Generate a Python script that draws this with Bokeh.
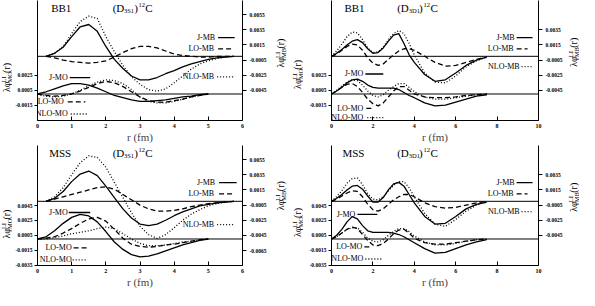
import math
from bokeh.plotting import figure
from bokeh.models import (Range1d, LinearAxis, FixedTicker, PrintfTickFormatter,
                          Span, Label, Arrow)
from bokeh.layouts import column, row
from bokeh.embed import file_html
from bokeh.resources import INLINE

# ---------------- data ----------------
R_S_MB = [0.25, 0.5, 0.75, 1.0, 1.25, 1.5, 1.75, 2.0, 2.25, 2.5, 2.75, 3.0,
          3.25, 3.5, 3.75, 4.0, 4.25, 4.5, 4.75, 5.0, 5.25, 5.5, 5.75]
R_S_MO = [0.0, 0.25, 0.5, 0.75, 1.0, 1.25, 1.5, 1.75, 2.0, 2.25, 2.5, 2.75,
          3.0, 3.25, 3.5, 3.75, 4.0, 4.25, 4.5, 4.75, 5.0]
R_D = [0.0, 0.25, 0.5, 0.75, 1.0, 1.25, 1.5, 1.75, 2.0, 2.25, 2.5, 2.75, 3.0,
       3.25, 3.5, 3.75, 4.0, 4.5, 5.0, 5.5, 6.0, 6.5, 7.0, 7.5]

X_TICKS_S = [0, 1, 2, 3, 4, 5, 6]
X_TICKS_D = [0, 2, 4, 6, 8, 10]
L_TICKS_BB1 = [0.0025, 0.0005, -0.0015]
L_TICKS_MSS = [0.0045, 0.0025, 0.0005, -0.0015, -0.0035]
R_TICKS_P1 = [0.0055, 0.0035, 0.0015, -0.0005, -0.0025, -0.0045]
R_TICKS_P2 = [0.0035, 0.0015, -0.0005, -0.0025, -0.0045]
R_TICKS_P3 = [0.0055, 0.0035, 0.0015, -0.0005, -0.0025, -0.0045, -0.0065]
R_TICKS_P4 = [0.0035, 0.0015, -0.0005, -0.0025, -0.0045]

# BB1, D(3S1)
BB1_S_J_MB = [0, 0.0004, 0.0012, 0.0026, 0.0039, 0.0042, 0.0033, 0.0013, -0.0004, -0.0016, -0.0026, -0.0031,
              -0.0031, -0.0028, -0.0023, -0.0019, -0.0014, -0.0010, -0.0007, -0.0004, -0.0002, -0.0001, 0.0]
BB1_S_LO_MB = [0, -0.0002, -0.0005, -0.0007, -0.0008, -0.0009, -0.0008, -0.0006, -0.0001, 0.0005, 0.0010, 0.0013,
               0.0013, 0.0011, 0.0007, 0.0003, 0.0001, 0.0, -0.0001, -0.0001, 0.0, 0.0, 0.0]
BB1_S_NLO_MB = [0, 0.0004, 0.0013, 0.0030, 0.0046, 0.0053, 0.0050, 0.0026, 0.0006, -0.0012, -0.0027, -0.0037,
                -0.0044, -0.0046, -0.0043, -0.0035, -0.0026, -0.0017, -0.0010, -0.0006, -0.0003, -0.0001, 0.0]
BB1_S_J_MO = [0, 0.0003, 0.0007, 0.0011, 0.0014, 0.0014, 0.0012, 0.0008, 0.0003, -0.0002, -0.0005,
              -0.0008, -0.0010, -0.0010, -0.0009, -0.0008, -0.0006, -0.0004, -0.0003, -0.0001, 0.0]
BB1_S_LO_MO = [0, -0.0002, -0.0003, -0.0002, 0.0, 0.0004, 0.0009, 0.0014, 0.0017, 0.0015, 0.0010,
               0.0003, -0.0004, -0.0009, -0.0011, -0.0011, -0.0009, -0.0007, -0.0004, -0.0002, 0.0]
BB1_S_NLO_MO = [0, -0.0003, -0.0004, -0.0003, 0.0, 0.0005, 0.0011, 0.0016, 0.0019, 0.0018, 0.0014,
                0.0006, -0.0004, -0.0010, -0.0012, -0.0012, -0.0010, -0.0007, -0.0004, -0.0002, 0.0]

# BB1, D(3D1)
BB1_D_J_MB = [0, 0.0004, 0.0009, 0.0015, 0.0020, 0.0022, 0.0018, 0.0010, 0.0004, 0.0005, 0.0011, 0.0020,
              0.0028, 0.0030, 0.0017, 0.0002, -0.0008, -0.0024, -0.0033, -0.0031, -0.0022, -0.0012, -0.0005, -0.0001]
BB1_D_LO_MB = [0, 0.0003, 0.0008, 0.0013, 0.0016, 0.0015, 0.0008, -0.0002, -0.0009, -0.0012, -0.0010, -0.0004,
               0.0002, 0.0007, 0.0010, 0.0010, 0.0008, 0.0000, -0.0008, -0.0013, -0.0012, -0.0008, -0.0004, -0.0001]
BB1_D_NLO_MB = [0, 0.0007, 0.0016, 0.0026, 0.0032, 0.0031, 0.0022, 0.0011, 0.0005, 0.0006, 0.0012, 0.0022,
                0.0030, 0.0034, 0.0030, 0.0017, 0.0002, -0.0022, -0.0034, -0.0035, -0.0026, -0.0014, -0.0006, -0.0001]
BB1_D_J_MO = [0, 0.0004, 0.0009, 0.0015, 0.0019, 0.0020, 0.0017, 0.0012, 0.0009, 0.0008, 0.0008, 0.0008,
              0.0008, 0.0006, 0.0002, -0.0002, -0.0005, -0.0012, -0.0016, -0.0015, -0.0011, -0.0007, -0.0003, -0.0001]
BB1_D_LO_MO = [0, 0.0004, 0.0009, 0.0013, 0.0014, 0.0010, 0.0002, -0.0007, -0.0013, -0.0016, -0.0012, -0.0004,
               0.0004, 0.0010, 0.0010, 0.0005, 0.0000, -0.0004, -0.0005, -0.0005, -0.0004, -0.0002, -0.0001, 0.0]
BB1_D_NLO_MO = [0, 0.0005, 0.0011, 0.0016, 0.0019, 0.0018, 0.0012, 0.0004, -0.0002, -0.0004, -0.0001, 0.0005,
                0.0010, 0.0014, 0.0014, 0.0009, 0.0003, -0.0004, -0.0007, -0.0007, -0.0005, -0.0003, -0.0001, 0.0]

# MSS, D(3S1)
MSS_S_J_MB = [0, 0.0004, 0.0013, 0.0026, 0.0036, 0.0040, 0.0034, 0.0020, 0.0005, -0.0010, -0.0022, -0.0030,
              -0.0032, -0.0030, -0.0025, -0.0019, -0.0014, -0.0010, -0.0006, -0.0004, -0.0002, -0.0001, 0.0]
MSS_S_LO_MB = [0, 0.0003, 0.0006, 0.0009, 0.0012, 0.0015, 0.0018, 0.0019, 0.0016, 0.0009, 0.0002, -0.0005,
               -0.0010, -0.0013, -0.0013, -0.0012, -0.0010, -0.0007, -0.0005, -0.0003, -0.0002, -0.0001, 0.0]
MSS_S_NLO_MB = [0, 0.0006, 0.0018, 0.0035, 0.0051, 0.0060, 0.0058, 0.0045, 0.0025, 0.0005, -0.0015, -0.0033,
                -0.0044, -0.0049, -0.0044, -0.0035, -0.0025, -0.0017, -0.0011, -0.0006, -0.0003, -0.0001, 0.0]
MSS_S_J_MO = [0, 0.0003, 0.0011, 0.0021, 0.0029, 0.0033, 0.0031, 0.0023, 0.0010, -0.0004, -0.0014,
              -0.0021, -0.0024, -0.0023, -0.0020, -0.0016, -0.0012, -0.0008, -0.0005, -0.0002, 0.0]
MSS_S_LO_MO = [0, 0.0001, 0.0003, 0.0008, 0.0014, 0.0021, 0.0027, 0.0029, 0.0024, 0.0013, 0.0001,
               -0.0007, -0.0010, -0.0011, -0.0010, -0.0008, -0.0007, -0.0005, -0.0003, -0.0001, 0.0]
MSS_S_NLO_MO = [0, 0.0000, 0.0002, 0.0004, 0.0007, 0.0009, 0.0011, 0.0014, 0.0016, 0.0014, 0.0007,
                0.0000, -0.0006, -0.0009, -0.0009, -0.0008, -0.0006, -0.0004, -0.0003, -0.0001, 0.0]

# MSS, D(3D1)
MSS_D_J_MB = [0, 0.0004, 0.0009, 0.0015, 0.0020, 0.0021, 0.0016, 0.0007, -0.0001, -0.0001, 0.0005, 0.0015,
              0.0023, 0.0025, 0.0020, 0.0009, -0.0002, -0.0020, -0.0030, -0.0029, -0.0020, -0.0010, -0.0004, -0.0001]
MSS_D_LO_MB = [0, 0.0003, 0.0007, 0.0011, 0.0014, 0.0013, 0.0006, -0.0004, -0.0011, -0.0013, -0.0010, -0.0004,
               0.0002, 0.0006, 0.0009, 0.0009, 0.0006, -0.0002, -0.0007, -0.0009, -0.0008, -0.0005, -0.0002, 0.0]
MSS_D_NLO_MB = [0, 0.0006, 0.0014, 0.0024, 0.0030, 0.0031, 0.0022, 0.0010, 0.0003, 0.0002, 0.0006, 0.0014,
                0.0021, 0.0026, 0.0026, 0.0018, 0.0006, -0.0016, -0.0030, -0.0033, -0.0024, -0.0013, -0.0005, -0.0001]
MSS_D_J_MO = [0, 0.0005, 0.0013, 0.0023, 0.0030, 0.0027, 0.0018, 0.0011, 0.0009, 0.0009, 0.0009, 0.0009,
              0.0008, 0.0006, 0.0003, -0.0001, -0.0005, -0.0013, -0.0019, -0.0018, -0.0013, -0.0008, -0.0004, -0.0001]
MSS_D_LO_MO = [0, 0.0003, 0.0008, 0.0013, 0.0016, 0.0014, 0.0006, -0.0002, -0.0008, -0.0009, -0.0006, 0.0000,
               0.0007, 0.0012, 0.0013, 0.0008, 0.0001, -0.0005, -0.0007, -0.0007, -0.0005, -0.0003, -0.0001, 0.0]
MSS_D_NLO_MO = [0, 0.0003, 0.0008, 0.0013, 0.0015, 0.0015, 0.0009, 0.0001, -0.0003, -0.0004, -0.0001, 0.0005,
                0.0010, 0.0014, 0.0014, 0.0010, 0.0004, -0.0004, -0.0008, -0.0008, -0.0006, -0.0003, -0.0001, 0.0]

# ---------------- layout / style ----------------
FONT = "Liberation Serif"
REF_H = 129.0
ZU, SU = 60.0, 8143.0     # upper (MB) zero line, px per unit
ZL, SL = 100.5, 8000.0    # lower (MO) zero line, px per unit
MB_RANGE = (-(REF_H - ZU) / SU, ZU / SU)
MO_RANGE = (-(REF_H - ZL) / SL, ZL / SL)
FRAME_H = 123
BOTTOM = 22
FIG_H = FRAME_H + BOTTOM
DASH = {"J": "solid", "LO": "5 3", "NLO": "1 2"}
LW = 1.3


def side(width, cx, ry0, sub):
    """Narrow strip that carries a rotated axis title."""
    f = figure(width=width, height=FIG_H, x_range=Range1d(0, width),
               y_range=Range1d(0, FIG_H), x_axis_type=None, y_axis_type=None,
               output_backend="svg", toolbar_location=None, min_border=0)
    f.outline_line_color = None
    f.grid.visible = False
    f.background_fill_color = "white"
    f.border_fill_color = "white"
    a = math.pi / 2
    y0 = FIG_H - ry0 * FRAME_H / REF_H
    for text, dx, dy, size in (("λφ", 0, 0, 10), ("LI", -2.6, 11.5, 6.5),
                               (sub, 2.6, 11.5, 6.5), ("(r)", 0, 23, 10)):
        f.add_layout(Label(x=cx + dx, y=y0 + dy, text=text, angle=a,
                           text_font=FONT, text_font_size=f"{size}px",
                           text_align="left", text_baseline="middle",
                           text_color="black"))
    return f


def build(cfg):
    fw, xmax, bl, br = cfg["fw"], cfg["xmax"], cfg["bl"], cfg["br"]
    p = figure(width=bl + fw + br, height=FIG_H,
               x_range=Range1d(0, xmax), y_range=Range1d(*MO_RANGE),
               output_backend="svg", toolbar_location=None,
               min_border_left=bl, min_border_right=br,
               min_border_top=0, min_border_bottom=BOTTOM)
    p.extra_y_ranges = {"mb": Range1d(*MB_RANGE)}
    p.outline_line_color = None
    p.xgrid.visible = False
    p.ygrid.visible = False
    p.background_fill_color = "white"
    p.border_fill_color = "white"

    def style(ax, tin, tout, size):
        ax.axis_line_color = "black"
        ax.axis_line_width = 1
        ax.major_tick_line_color = "black"
        ax.major_tick_in = tin
        ax.major_tick_out = tout
        ax.minor_tick_line_color = None
        ax.major_label_text_font = FONT
        ax.major_label_text_font_size = size
        ax.major_label_text_font_style = "bold"
        ax.major_label_text_color = "black"

    xa = p.xaxis[0]
    xa.ticker = FixedTicker(ticks=cfg["xticks"])
    style(xa, 4, 0, "6px")
    xa.major_label_standoff = 3
    xa.axis_label = "r (fm)"
    xa.axis_label_text_font = FONT
    xa.axis_label_text_font_size = "11px"
    xa.axis_label_text_font_style = "normal"
    xa.axis_label_standoff = 0

    ya = p.yaxis[0]
    ya.ticker = FixedTicker(ticks=cfg["lticks"])
    ya.formatter = PrintfTickFormatter(format="%.4f")
    style(ya, 0, 3, "5.5px")
    ya.major_label_standoff = 2

    ra = LinearAxis(y_range_name="mb", ticker=FixedTicker(ticks=cfg["rticks"]),
                    formatter=PrintfTickFormatter(format="%.4f"))
    style(ra, 0, 4, "5.5px")
    ra.major_label_standoff = 3
    p.add_layout(ra, "right")

    p.add_layout(Span(location=0, dimension="width", y_range_name="mb",
                      line_color="black", line_width=1))
    p.add_layout(Span(location=0, dimension="width",
                      line_color="black", line_width=1))

    for key, ys in cfg["mb"].items():
        p.line(cfg["r_mb"], ys, y_range_name="mb", line_color="black",
               line_width=LW, line_dash=DASH[key])
    for key, ys in cfg["mo"].items():
        p.line(cfg["r_mo"], ys, line_color="black",
               line_width=LW, line_dash=DASH[key])

    def X(rx):
        return rx / fw * xmax

    def Y(ry, rn):
        return (ZU - ry) / SU if rn == "mb" else (ZL - ry) / SL

    def txt(text, rx, ry, size, rn="mb", align="left"):
        p.add_layout(Label(x=X(rx), y=Y(ry, rn), y_range_name=rn, text=text,
                           text_font=FONT, text_font_size=f"{size}px",
                           text_align=align, text_baseline="middle",
                           text_color="black"))

    txt(cfg["name"], cfg["name_rx"], 8, 11)
    t0 = cfg["title_rx"]
    txt("(D", t0, 8, 11)
    txt(cfg["wave"], t0 + 11.6, 10.5, 6.5)
    txt(")", t0 + 22, 8, 11)
    txt("12", t0 + 26.5, 4.5, 6.5)
    txt("C", t0 + 33.5, 8, 11)

    for lab, (trx, ry, k0, k1) in cfg["legend"].items():
        order, kind = lab.split("-")
        rn = "mb" if kind == "MB" else "default"
        txt(lab, trx, ry, 8, rn=rn, align="right")
        p.add_layout(Arrow(start=None, end=None, x_start=X(k0), y_start=Y(ry, rn),
                           x_end=X(k1), y_end=Y(ry, rn), y_range_name=rn,
                           line_color="black", line_width=LW, line_dash=DASH[order]))
    return p


P1 = dict(name="BB1", wave="3S1", xmax=6, fw=210, bl=21, br=26,
          xticks=X_TICKS_S, lticks=L_TICKS_BB1, rticks=R_TICKS_P1,
          r_mb=R_S_MB, r_mo=R_S_MO,
          mb={"J": BB1_S_J_MB, "LO": BB1_S_LO_MB, "NLO": BB1_S_NLO_MB},
          mo={"J": BB1_S_J_MO, "LO": BB1_S_LO_MO, "NLO": BB1_S_NLO_MO},
          name_rx=14, title_rx=77,
          legend={"J-MB": (182, 40, 185, 202), "LO-MB": (181, 52, 185, 200),
                  "NLO-MB": (181, 82, 184, 202), "J-MO": (31, 83, 33, 54),
                  "LO-MO": (27, 109, 31, 49), "NLO-MO": (31, 122, 34, 51)})
P2 = dict(name="BB1", wave="3D1", xmax=10, fw=208, bl=28, br=26,
          xticks=X_TICKS_D, lticks=L_TICKS_BB1, rticks=R_TICKS_P2,
          r_mb=R_D, r_mo=R_D,
          mb={"J": BB1_D_J_MB, "LO": BB1_D_LO_MB, "NLO": BB1_D_NLO_MB},
          mo={"J": BB1_D_J_MO, "LO": BB1_D_LO_MO, "NLO": BB1_D_NLO_MO},
          name_rx=13, title_rx=66,
          legend={"J-MB": (184, 40, 186, 202), "LO-MB": (183, 52, 186, 197),
                  "NLO-MB": (189, 71, 191, 201), "J-MO": (32, 79, 34, 52),
                  "LO-MO": (32, 116, 35, 40), "NLO-MO": (32, 126, 36, 52)})
P3 = dict(name="MSS", wave="3S1", xmax=6, fw=210, bl=21, br=26,
          xticks=X_TICKS_S, lticks=L_TICKS_MSS, rticks=R_TICKS_P3,
          r_mb=R_S_MB, r_mo=R_S_MO,
          mb={"J": MSS_S_J_MB, "LO": MSS_S_LO_MB, "NLO": MSS_S_NLO_MB},
          mo={"J": MSS_S_J_MO, "LO": MSS_S_LO_MO, "NLO": MSS_S_NLO_MO},
          name_rx=12, title_rx=77,
          legend={"J-MB": (182, 40, 186, 204), "LO-MB": (181, 52, 186, 201),
                  "NLO-MB": (181, 85, 184, 202), "J-MO": (31, 72, 32, 54),
                  "LO-MO": (35, 110, 37, 51), "NLO-MO": (35, 123, 36, 51)})
P4 = dict(name="MSS", wave="3D1", xmax=10, fw=208, bl=28, br=26,
          xticks=X_TICKS_D, lticks=L_TICKS_MSS, rticks=R_TICKS_P4,
          r_mb=R_D, r_mo=R_D,
          mb={"J": MSS_D_J_MB, "LO": MSS_D_LO_MB, "NLO": MSS_D_NLO_MB},
          mo={"J": MSS_D_J_MO, "LO": MSS_D_LO_MO, "NLO": MSS_D_NLO_MO},
          name_rx=11, title_rx=66,
          legend={"J-MB": (184, 40, 186, 202), "LO-MB": (183, 52, 186, 197),
                  "NLO-MB": (189, 71, 191, 201), "J-MO": (24, 74, 26, 46),
                  "LO-MO": (31, 109, 33, 38), "NLO-MO": (32, 122, 34, 52)})

top = row(side(12, 6, 116, "MO"), build(P1), side(20, 11, 85, "MB"),
          side(14, 8, 112, "MO"), build(P2), side(14, 8, 84, "MB"))
bottom = row(side(12, 6, 118, "MO"), build(P3), side(20, 11, 82, "MB"),
             side(14, 8, 116, "MO"), build(P4), side(14, 8, 84, "MB"))
layout = column(top, bottom)
open("out.html", "w").write(file_html(layout, INLINE))
